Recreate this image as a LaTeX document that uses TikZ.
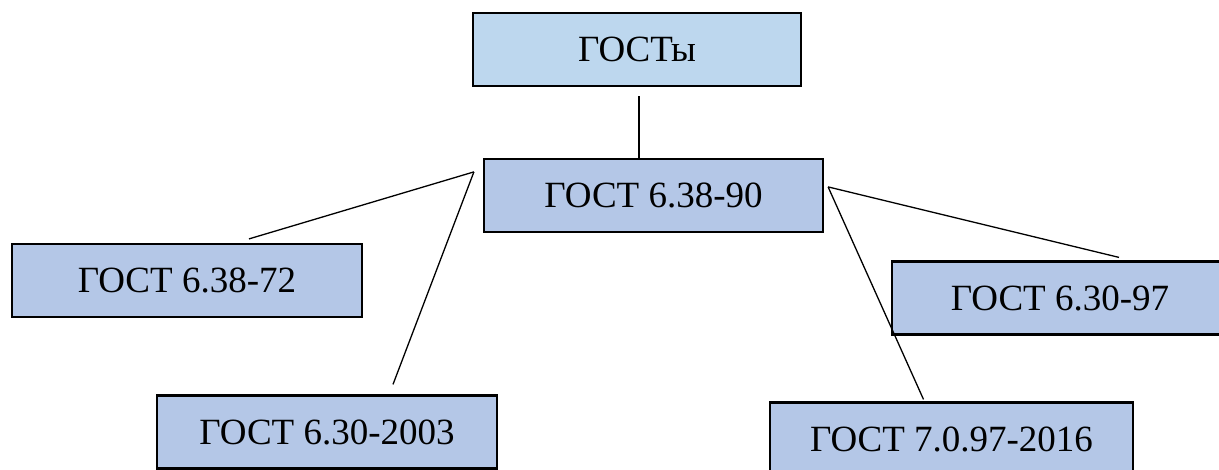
\documentclass[tikz,border=0pt]{standalone}
\usepackage{fontspec}
\setmainfont{Liberation Serif}
\usepackage{tikz}
\usetikzlibrary{positioning}
\usepackage{xcolor}
\definecolor{topfill}{HTML}{BDD7EE}
\definecolor{boxfill}{HTML}{B4C7E7}

\begin{document}
\begin{tikzpicture}[x=1pt, y=-1pt, font=\fontsize{37}{41}\selectfont]
\tikzstyle{block} = [draw, line width=2.2pt, fill=boxfill, minimum height=73pt, inner sep=0pt]
\tikzstyle{link} = [line width=1.3pt]
\useasboundingbox (0,0) rectangle (1219,470);

\node[block, fill=topfill, minimum width=328pt] (gosty) at (637,49.5) {ГОСТы};
\node[block, minimum width=339pt] (g90) at (653.5,195.5) {ГОСТ 6.38-90};
\node[block, minimum width=350pt] (g72) at (187,280.5) {ГОСТ 6.38-72};
\node[block, minimum width=340pt] (g2003) at (327,432) {ГОСТ 6.30-2003};
\node[block, minimum width=336pt] (g97) at (1060,298) {ГОСТ 6.30-97};
\node[block, minimum width=363pt] (g2016) at (951.5,439) {ГОСТ 7.0.97-2016};

\coordinate (lhub) at ([shift={(-9pt,-14pt)}]g90.north west);
\coordinate (rhub) at ([shift={(4pt,-29pt)}]g90.north east);

\draw[link] ([shift={(2pt,-9pt)}]gosty.south) -- ([xshift=-14.5pt]g90.north);
\draw[link] (lhub) -- ([shift={(62pt,4pt)}]g72.north);
\draw[link] (lhub) -- ([shift={(66pt,10pt)}]g2003.north);
\draw[link] (rhub) -- ([shift={(59pt,3pt)}]g97.north);
\draw[link] (rhub) -- ([shift={(-28pt,2pt)}]g2016.north);
\end{tikzpicture}
\end{document}
